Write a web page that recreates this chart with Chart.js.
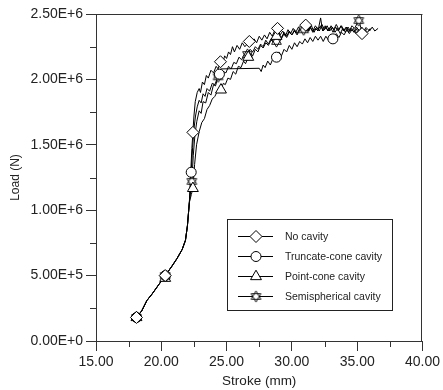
<!DOCTYPE html>
<html><head><meta charset="utf-8">
<script src="https://cdn.jsdelivr.net/npm/chart.js@4/dist/chart.umd.min.js"></script>
<style>html,body{margin:0;padding:0;background:#fff}#wrap{width:443px;height:390px}</style>
</head><body><div id="wrap"><canvas id="c" width="443" height="390"></canvas></div>
<script>
// ---- data (stroke in mm, load in MN; converted to N below) ----
const seriesNames = ['No cavity', 'Truncate-cone cavity', 'Point-cone cavity', 'Semispherical cavity'];
const xTickValues = [15, 20, 25, 30, 35, 40];
const xTickLabels = ['15.00', '20.00', '25.00', '30.00', '35.00', '40.00'];
const xMinorTicks = [17.5, 22.5, 27.5, 32.5, 37.5];
const yTickValues = [0, 500000, 1000000, 1500000, 2000000, 2500000];
const yTickLabels = ['0.00E+0', '5.00E+5', '1.00E+6', '1.50E+6', '2.00E+6', '2.50E+6'];
const yMinorTicks = [250000, 750000, 1250000, 1750000, 2250000];
const xTitle = 'Stroke (mm)';
const yTitle = 'Load (N)';

const commonLower = [[18.1,0.18],[18.5,0.23],[18.9,0.31],[19.3,0.36],[19.8,0.43],[20.3,0.50],[20.8,0.57],[21.2,0.63],[21.6,0.70],[21.85,0.77],[22.0,0.88],[22.15,1.06]];

const noCavityUpper = [[22.25,1.28],[22.34,1.47],[22.42,1.595],[22.5,1.72],[22.6,1.83],[22.75,1.90],[22.9,1.93],[23.0,1.90],[23.15,1.98],[23.3,1.96],[23.45,2.03],[23.6,2.01],[23.8,2.07],[24.0,2.05],[24.2,2.10],[24.35,2.08],[24.53,2.135],[24.7,2.12],[24.85,2.18],[25.0,2.16],[25.15,2.21],[25.3,2.19],[25.45,2.25],[25.6,2.21],[25.8,2.26],[26.0,2.23],[26.2,2.28],[26.4,2.25],[26.74,2.29],[26.9,2.26],[27.1,2.31],[27.3,2.28],[27.5,2.33],[27.7,2.30],[27.9,2.34],[28.1,2.31],[28.3,2.36],[28.5,2.33],[28.7,2.38],[28.9,2.39],[29.1,2.34],[29.3,2.37],[29.5,2.33],[29.7,2.38],[29.9,2.35],[30.1,2.39],[30.3,2.36],[30.5,2.40],[30.7,2.37],[30.9,2.41],[31.06,2.415],[31.3,2.37],[31.5,2.41],[31.7,2.36],[31.9,2.40],[32.1,2.37],[32.3,2.42],[32.5,2.38],[32.7,2.41],[32.9,2.37],[33.1,2.40],[33.3,2.36],[33.5,2.39],[33.7,2.35],[33.9,2.39],[34.1,2.36],[34.3,2.40],[34.5,2.37],[34.7,2.39],[34.9,2.35],[35.1,2.38],[35.37,2.35],[35.6,2.38],[35.8,2.36],[36.0,2.39]];
const noCavityMarkers = [[18.1,0.18],[20.3,0.50],[22.42,1.595],[24.53,2.135],[26.74,2.29],[28.9,2.39],[31.06,2.415],[35.37,2.35]];

const truncateUpper = [[22.29,1.29],[22.4,1.48],[22.5,1.62],[22.62,1.72],[22.75,1.79],[22.9,1.84],[23.05,1.82],[23.2,1.89],[23.35,1.87],[23.5,1.93],[23.7,1.91],[23.9,1.97],[24.1,1.96],[24.3,2.01],[24.45,2.04],[24.55,2.08],[27.5,2.085],[27.65,2.06],[27.8,2.11],[27.95,2.09],[28.15,2.14],[28.35,2.11],[28.55,2.16],[28.82,2.17],[29.0,2.21],[29.2,2.18],[29.4,2.23],[29.6,2.21],[29.8,2.26],[30.0,2.23],[30.2,2.28],[30.4,2.25],[30.6,2.29],[30.8,2.27],[31.0,2.31],[31.2,2.28],[31.4,2.32],[31.6,2.29],[31.8,2.33],[32.0,2.30],[32.2,2.33],[32.4,2.29],[32.6,2.33],[32.8,2.30],[33.14,2.31],[33.4,2.35],[33.6,2.32],[33.8,2.36],[34.0,2.34],[34.2,2.38],[34.4,2.35],[34.6,2.38],[34.8,2.36],[35.0,2.39],[35.2,2.37],[35.4,2.39]];
const truncateMarkers = [[18.1,0.18],[20.3,0.50],[22.29,1.29],[24.45,2.04],[28.82,2.17],[33.14,2.31]];

const pointConeUpper = [[22.3,1.12],[22.42,1.167],[22.55,1.35],[22.7,1.50],[22.9,1.60],[23.1,1.67],[23.3,1.70],[23.5,1.77],[23.7,1.80],[23.9,1.85],[24.1,1.87],[24.3,1.91],[24.57,1.92],[24.75,1.97],[24.9,1.96],[25.1,2.01],[25.3,2.00],[25.5,2.06],[25.7,2.04],[25.9,2.10],[26.1,2.09],[26.3,2.14],[26.45,2.12],[26.66,2.17],[26.85,2.20],[27.0,2.18],[27.2,2.23],[27.4,2.21],[27.6,2.26],[27.8,2.24],[28.0,2.28],[28.2,2.26],[28.4,2.30],[28.6,2.29],[28.82,2.33],[29.0,2.35],[29.2,2.32],[29.4,2.36],[29.6,2.33],[29.8,2.37],[30.0,2.34],[30.2,2.38],[30.4,2.35],[30.6,2.39],[30.8,2.36],[31.0,2.40],[31.2,2.37],[31.4,2.40],[31.6,2.36],[31.8,2.39],[32.0,2.37],[32.2,2.47],[32.35,2.37],[32.55,2.41],[32.75,2.37],[32.95,2.40],[33.15,2.36],[33.35,2.40],[33.55,2.37],[33.75,2.41],[33.95,2.37],[34.15,2.40],[34.35,2.36],[34.55,2.39],[34.75,2.36],[34.95,2.40],[35.15,2.37],[35.35,2.40],[35.55,2.36],[35.75,2.39],[35.95,2.37],[36.15,2.40],[36.35,2.37],[36.6,2.39]];
const pointConeMarkers = [[18.1,0.18],[20.3,0.48],[22.42,1.167],[24.57,1.92],[26.66,2.17],[28.82,2.33]];

const semiUpper = [[22.34,1.22],[22.45,1.42],[22.58,1.58],[22.72,1.68],[22.9,1.76],[23.05,1.74],[23.2,1.83],[23.4,1.82],[23.6,1.90],[23.8,1.88],[24.0,1.96],[24.15,1.95],[24.35,2.02],[24.55,2.01],[24.75,2.06],[24.95,2.05],[25.15,2.10],[25.35,2.08],[25.55,2.13],[25.75,2.12],[25.95,2.17],[26.15,2.15],[26.35,2.19],[26.6,2.19],[26.8,2.23],[27.0,2.21],[27.2,2.25],[27.4,2.23],[27.6,2.27],[27.8,2.25],[28.0,2.30],[28.2,2.27],[28.4,2.31],[28.6,2.28],[28.82,2.29],[29.0,2.33],[29.2,2.31],[29.4,2.35],[29.6,2.32],[29.8,2.36],[30.0,2.34],[30.2,2.37],[30.4,2.34],[30.6,2.38],[30.9,2.38],[31.0,2.39],[31.2,2.36],[31.4,2.40],[31.6,2.37],[31.8,2.41],[32.0,2.38],[32.2,2.41],[32.4,2.37],[32.6,2.40],[32.8,2.37],[33.0,2.41],[33.2,2.38],[33.4,2.42],[33.6,2.38],[33.8,2.41],[34.0,2.37],[34.2,2.40],[34.4,2.37],[34.6,2.41],[34.8,2.39],[35.12,2.45],[35.3,2.39],[35.5,2.37],[35.7,2.40]];
const semiMarkers = [[18.1,0.18],[20.3,0.50],[22.34,1.22],[24.35,2.02],[26.6,2.19],[28.82,2.29],[30.9,2.38],[35.12,2.45]];

const MN = 1e6;
const toPts = arr => arr.map(p => ({x: p[0], y: p[1] * MN}));

// ---- markers ----
function starMarker() {
  const s = 13, c = document.createElement('canvas');
  c.width = s; c.height = s;
  const g = c.getContext('2d');
  const m = s / 2, r = 5.6;
  const tri = (rot) => {
    g.moveTo(m + r * Math.sin(rot), m - r * Math.cos(rot));
    g.lineTo(m + r * Math.sin(rot + 2.0944), m - r * Math.cos(rot + 2.0944));
    g.lineTo(m + r * Math.sin(rot + 4.1888), m - r * Math.cos(rot + 4.1888));
    g.closePath();
  };
  g.beginPath(); tri(0); tri(Math.PI);
  g.fillStyle = '#fff'; g.fill();
  g.strokeStyle = '#000'; g.lineWidth = 0.9; g.stroke();
  return c;
}
const markerStyles = ['rectRot', 'circle', 'triangle', starMarker()];
const markerRadius = [6, 5, 6.3, 6];

const lineData = [
  commonLower.concat(noCavityUpper),
  commonLower.concat(truncateUpper),
  commonLower.concat(pointConeUpper),
  commonLower.concat(semiUpper)
];
const markerData = [noCavityMarkers, truncateMarkers, pointConeMarkers, semiMarkers];

const datasets = [];
for (let i = 0; i < 4; i++) {
  datasets.push({
    label: seriesNames[i], data: toPts(lineData[i]), showLine: true,
    borderColor: '#000', borderWidth: 1, pointRadius: 0, tension: 0, order: 2
  });
}
for (let i = 0; i < 4; i++) {
  datasets.push({
    label: seriesNames[i] + ' markers', data: toPts(markerData[i]), showLine: false,
    pointStyle: markerStyles[i], pointRadius: markerRadius[i],
    pointBackgroundColor: '#fff', pointBorderColor: '#000', pointBorderWidth: 1,
    order: 1, clip: false
  });
}

const AX = '#333';
const FONT = "'Liberation Sans', Arial, sans-serif";

const framePlugin = {
  id: 'frame',
  afterDraw(chart) {
    const {ctx, chartArea: a, scales: {x, y}} = chart;
    ctx.save();
    ctx.strokeStyle = AX; ctx.lineWidth = 1;
    ctx.beginPath();
    ctx.moveTo(a.left, Math.round(a.top) + 0.5); ctx.lineTo(a.right, Math.round(a.top) + 0.5);
    ctx.moveTo(Math.round(a.right) - 0.5, a.top); ctx.lineTo(Math.round(a.right) - 0.5, a.bottom);
    // minor ticks
    xMinorTicks.forEach(v => {
      const px = Math.round(x.getPixelForValue(v)) + 0.5;
      ctx.moveTo(px, a.bottom); ctx.lineTo(px, a.bottom + 6);
    });
    yMinorTicks.forEach(v => {
      const py = Math.round(y.getPixelForValue(v)) + 0.5;
      ctx.moveTo(a.left, py); ctx.lineTo(a.left - 6, py);
    });
    ctx.stroke();

    // legend box
    const bx = 227.5, by = 219.5, bw = 165, bh = 91;
    ctx.fillStyle = '#fff'; ctx.fillRect(bx, by, bw, bh);
    ctx.strokeStyle = '#222'; ctx.strokeRect(bx, by, bw, bh);
    ctx.font = '10.5px ' + FONT; ctx.fillStyle = '#222';
    ctx.textBaseline = 'middle'; ctx.textAlign = 'left';
    for (let i = 0; i < 4; i++) {
      const ry = Math.round(235.5 + i * 20) + 0.5;
      ctx.strokeStyle = '#000'; ctx.lineWidth = 1;
      ctx.beginPath(); ctx.moveTo(238, ry); ctx.lineTo(273, ry); ctx.stroke();
      const opts = {pointStyle: markerStyles[i], radius: markerRadius[i], rotation: 0, borderWidth: 1};
      ctx.fillStyle = '#fff'; ctx.strokeStyle = '#000';
      Chart.helpers.drawPoint(ctx, opts, 256, ry);
      ctx.fillStyle = '#222';
      ctx.fillText(seriesNames[i], 285, ry + 0.5);
    }
    ctx.restore();
  }
};

new Chart(document.getElementById('c'), {
  type: 'scatter',
  data: {datasets},
  plugins: [framePlugin],
  options: {
    responsive: false, animation: false, devicePixelRatio: 1,
    layout: {padding: {left: 0, right: 19, top: 14, bottom: 0}},
    plugins: {legend: {display: false}, tooltip: {enabled: false}},
    scales: {
      x: {
        type: 'linear', min: 15, max: 40,
        afterBuildTicks: s => { s.ticks = xTickValues.map(v => ({value: v})); },
        afterFit: s => { s.height = 49; },
        ticks: {callback: (v, i) => xTickLabels[i], color: '#222', padding: 3, maxRotation: 0, autoSkip: false,
                font: {family: FONT, size: 14}},
        grid: {drawOnChartArea: false, drawTicks: true, tickLength: 10, tickColor: AX},
        border: {display: true, color: AX, width: 1},
        title: {display: true, text: xTitle, color: '#222', font: {family: FONT, size: 13.5}, padding: {top: 0, bottom: 1}}
      },
      y: {
        type: 'linear', min: 0, max: 2500000,
        afterBuildTicks: s => { s.ticks = yTickValues.map(v => ({value: v})); },
        afterFit: s => { s.width = 96; },
        ticks: {callback: (v, i) => yTickLabels[i], color: '#222', padding: 3, autoSkip: false,
                font: {family: FONT, size: 14}},
        grid: {drawOnChartArea: false, drawTicks: true, tickLength: 10, tickColor: AX},
        border: {display: true, color: AX, width: 1},
        title: {display: true, text: yTitle, color: '#222', font: {family: FONT, size: 12}, padding: {top: 8, bottom: 0}}
      }
    }
  }
});
</script></body></html>
